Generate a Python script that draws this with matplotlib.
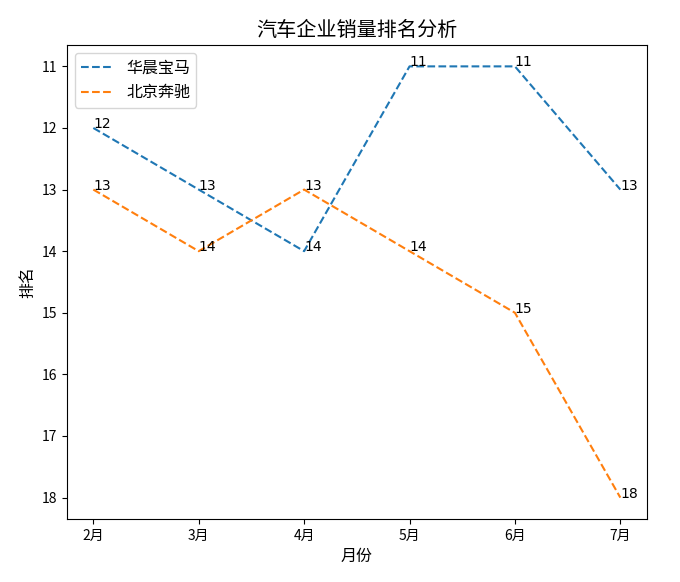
import matplotlib
matplotlib.use('Agg')
import matplotlib.pyplot as plt

plt.rcParams['font.family'] = ['Noto Sans CJK SC', 'DejaVu Sans']
plt.rcParams['axes.unicode_minus'] = False

months = ['2月', '3月', '4月', '5月', '6月', '7月']
bmw_rank = [12, 13, 14, 11, 11, 13]
benz_rank = [13, 14, 13, 14, 15, 18]

fig, ax = plt.subplots(figsize=(6.8, 5.82), dpi=100)
fig.subplots_adjust(left=0.0985, right=0.951, top=0.923, bottom=0.108)

ax.plot(months, bmw_rank, '--', label='华晨宝马')
ax.plot(months, benz_rank, '--', label='北京奔驰')

# value labels at each point, default left/baseline alignment
for i, v in enumerate(bmw_rank):
    ax.text(i, v, str(v), family='DejaVu Sans', fontsize=10)
for i, v in enumerate(benz_rank):
    ax.text(i, v, str(v), family='DejaVu Sans', fontsize=10)

ax.invert_yaxis()
ax.set_title('汽车企业销量排名分析', fontsize=14.5)
ax.set_xlabel('月份', fontsize=11.5)
ax.set_ylabel('排名', fontsize=11.5)
ax.legend(loc='upper left', fontsize=11.5)

fig.savefig('out.png')
